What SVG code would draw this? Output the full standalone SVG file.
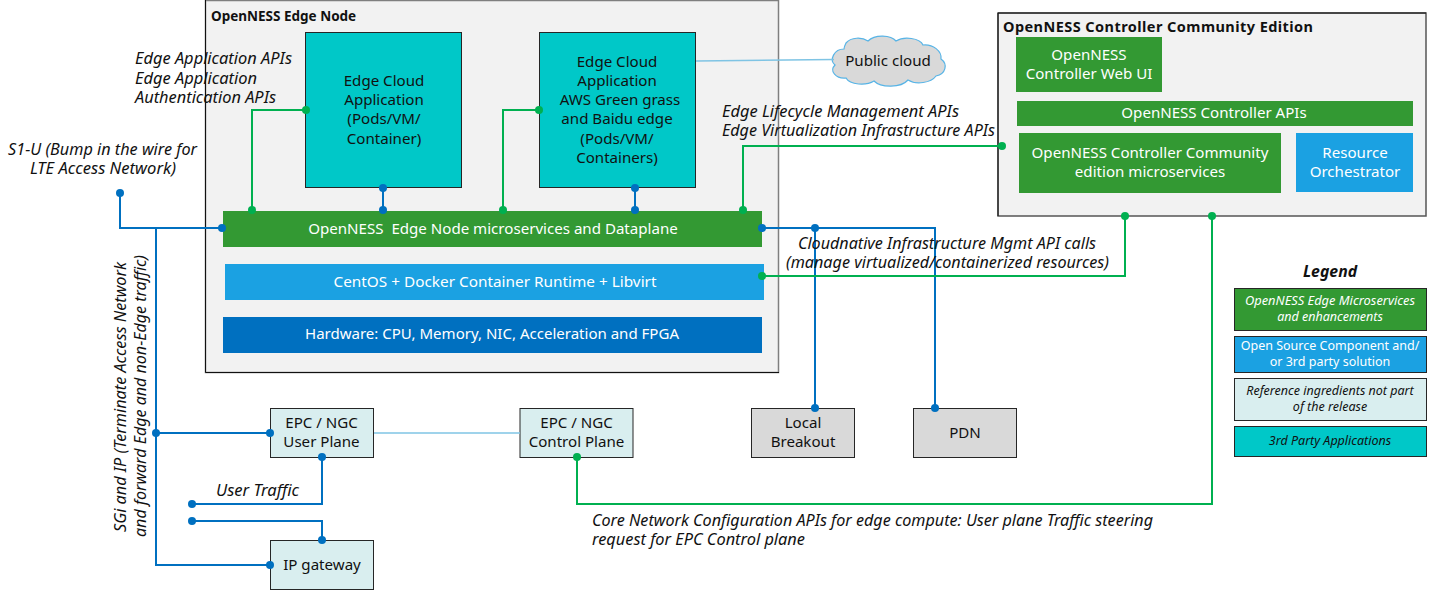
<svg xmlns="http://www.w3.org/2000/svg" width="1430" height="590" viewBox="0 0 1430 590">
<style>
text{font-family:"Noto Sans","Open Sans","Liberation Sans",sans-serif;font-size:15.100px;fill:#111}
.c{text-anchor:middle}
.w{fill:#fff}
.i{font-style:italic;font-size:15.800px}
.b{font-weight:700;font-size:13.500px}
.l{font-size:12.500px;font-style:italic;text-anchor:middle}
.lp{font-size:12.500px;text-anchor:middle}
.box{stroke:#262626;stroke-width:1}
.g{fill:#339933}.bl{fill:#1ba1e2}.dk{fill:#0070c0}.te{fill:#00c8c8}.pa{fill:#d9eeef}.gy{fill:#d9d9d9}
.lb{fill:none;stroke:#0070c0;stroke-width:2}
.lg{fill:none;stroke:#00b050;stroke-width:2}
.ln{fill:none;stroke:#7fc4e4;stroke-width:1.500}
.db{fill:#0070c0}.dg{fill:#00b050}
</style>
<defs>
<circle id="pb" r="4" class="db"/>
<circle id="pg" r="4" class="dg"/>
</defs>

<g id="edge-node">
<rect x="205.500" y="0.500" width="573" height="372" fill="#f2f2f2" stroke="#7f7f7f" stroke-width="1.500"/>
<path d="M205.500 0V372.500H779" fill="none" stroke="#111"/>
<text x="211" y="21" class="b">OpenNESS Edge Node</text>
</g>
<g id="controller">
<rect x="998" y="13" width="428" height="203" fill="#f2f2f2" stroke="#555" stroke-width="1.500"/>
<path d="M998 216V13H1426" fill="none" stroke="#111"/>
<text x="1003" y="32" class="b" style="font-size:14.500px" textLength="310">OpenNESS Controller Community Edition</text>
</g>

<g id="edge-app-1">
<rect class="te box" x="305.500" y="32.500" width="156" height="155"/>
<text class="c" x="384" y="86">Edge Cloud</text>
<text class="c" x="384" y="105">Application</text>
<text class="c" x="384" y="124">(Pods/VM/</text>
<text class="c" x="384" y="144">Container)</text>
</g>
<g id="edge-app-2">
<rect class="te box" x="539.500" y="32.500" width="156" height="155"/>
<text class="c" x="617" y="67">Edge Cloud</text>
<text class="c" x="617" y="86">Application</text>
<text class="c" x="620" y="105">AWS Green grass</text>
<text class="c" x="617" y="124">and Baidu edge</text>
<text class="c" x="617" y="144">(Pods/VM/</text>
<text class="c" x="617" y="163">Containers)</text>
</g>
<g id="public-cloud">
<path d="M846 43C851 37 862 37 868 41C875 34 891 35 896 41C904 36 920 38 923 45C933 44 942 51 941 59C948 64 946 74 936 76C931 83 916 85 908 80C901 88 881 88 874 81C866 86 850 85 846 78C836 79 829 71 835 65C829 60 834 49 844 49C844 47 845 45 846 43Z" fill="#d9d9d9" stroke="#58b4e6" stroke-width="1.200"/>
<text class="c" x="888" y="66">Public cloud</text>
</g>
<g id="dataplane">
<rect class="g" x="223" y="211" width="539" height="36"/>
<text class="c w" x="493" y="234">OpenNESS&#160; Edge Node microservices and Dataplane</text>
</g>
<g id="runtime">
<rect class="bl" x="225" y="264" width="539" height="36"/>
<text class="c w" x="495" y="287" textLength="323" lengthAdjust="spacingAndGlyphs">CentOS + Docker Container Runtime + Libvirt</text>
</g>
<g id="hardware">
<rect class="dk" x="223" y="317" width="539" height="36"/>
<text class="c w" x="492" y="339" textLength="374" lengthAdjust="spacingAndGlyphs">Hardware: CPU, Memory, NIC, Acceleration and FPGA</text>
</g>
<g id="web-ui">
<rect class="g" x="1016" y="37" width="146" height="55"/>
<text class="c w" x="1089" y="60">OpenNESS</text>
<text class="c w" x="1089" y="79">Controller Web UI</text>
</g>
<g id="controller-apis">
<rect class="g" x="1017" y="101" width="396" height="25"/>
<text class="c w" x="1214" y="118">OpenNESS Controller APIs</text>
</g>
<g id="controller-ms">
<rect class="g" x="1019" y="133" width="262" height="60"/>
<text class="c w" x="1150" y="158">OpenNESS Controller Community</text>
<text class="c w" x="1150" y="177">edition microservices</text>
</g>
<g id="orchestrator">
<rect class="bl" x="1296" y="133" width="117" height="59"/>
<text class="c w" x="1355" y="158">Resource</text>
<text class="c w" x="1355" y="177">Orchestrator</text>
</g>
<g id="epc-up">
<rect class="pa box" x="270.500" y="408.500" width="103" height="49"/>
<text class="c" x="321.500" y="428">EPC / NGC</text>
<text class="c" x="321.500" y="447">User Plane</text>
</g>
<g id="epc-cp">
<rect class="pa box" x="520" y="408.500" width="113" height="49"/>
<text class="c" x="576.500" y="428">EPC / NGC</text>
<text class="c" x="576.500" y="447">Control Plane</text>
</g>
<g id="local-breakout">
<rect class="gy box" x="751.500" y="408.500" width="103" height="49"/>
<text class="c" x="803" y="428">Local</text>
<text class="c" x="803" y="447">Breakout</text>
</g>
<g id="pdn">
<rect class="gy box" x="913.500" y="408.500" width="103" height="49"/>
<text class="c" x="965" y="438">PDN</text>
</g>
<g id="ip-gateway">
<rect class="pa box" x="270.500" y="540.500" width="103" height="49"/>
<text class="c" x="322" y="570">IP gateway</text>
</g>

<g id="connectors">
<path class="ln" d="M696 61L834 59.500"/>
<path class="ln" d="M374 433H520"/>
<path class="lb" d="M120 193V228H222"/>
<path class="lb" d="M156 228V565H270"/>
<path class="lb" d="M156 433H270"/>
<path class="lb" d="M322 457V504H192"/>
<path class="lb" d="M192 521H322V540"/>
<path class="lb" d="M383 188V210"/>
<path class="lb" d="M635 188V210"/>
<path class="lb" d="M762 228H935V408"/>
<path class="lb" d="M815 228V408"/>
<path class="lg" d="M304 110H252V210"/>
<path class="lg" d="M538 110H503V210"/>
<path class="lg" d="M743 210V146H1002"/>
<path class="lg" d="M764 276H1125V216"/>
<path class="lg" d="M577 457V504H1212V216"/>
<use href="#pb" x="120" y="193"/><use href="#pb" x="222" y="228"/>
<use href="#pb" x="156" y="433"/><use href="#pb" x="270" y="433"/><use href="#pb" x="270" y="565"/>
<use href="#pb" x="322" y="457"/><use href="#pb" x="192" y="504"/><use href="#pb" x="192" y="521"/><use href="#pb" x="322" y="540"/>
<use href="#pb" x="383" y="188"/><use href="#pb" x="383" y="210"/><use href="#pb" x="635" y="188"/><use href="#pb" x="635" y="210"/>
<use href="#pb" x="762" y="228"/><use href="#pb" x="815" y="228"/><use href="#pb" x="815" y="408"/><use href="#pb" x="935" y="408"/>
<use href="#pg" x="306" y="110"/><use href="#pg" x="252" y="210"/><use href="#pg" x="539" y="110"/><use href="#pg" x="503" y="210"/>
<use href="#pg" x="743" y="210"/><use href="#pg" x="1002" y="146"/><use href="#pg" x="762" y="276"/><use href="#pg" x="1125" y="216"/><use href="#pg" x="1212" y="216"/><use href="#pg" x="577" y="457"/>
</g>

<g id="labels">
<text class="i" x="135" y="64" textLength="157" lengthAdjust="spacingAndGlyphs">Edge Application APIs</text>
<text class="i" x="135" y="84" textLength="122" lengthAdjust="spacingAndGlyphs">Edge Application</text>
<text class="i" x="135" y="103" textLength="141" lengthAdjust="spacingAndGlyphs">Authentication APIs</text>
<text class="i" x="8" y="155" textLength="189" lengthAdjust="spacingAndGlyphs">S1-U (Bump in the wire for</text>
<text class="i" x="30" y="174" textLength="146" lengthAdjust="spacingAndGlyphs">LTE Access Network)</text>
<text class="i" x="722" y="117" textLength="237" lengthAdjust="spacingAndGlyphs">Edge Lifecycle Management APIs</text>
<text class="i" x="722" y="136" textLength="273" lengthAdjust="spacingAndGlyphs">Edge Virtualization Infrastructure APIs</text>
<text class="i" x="798" y="249" textLength="298" lengthAdjust="spacingAndGlyphs">Cloudnative Infrastructure Mgmt API calls</text>
<text class="i" x="786" y="268" textLength="323" lengthAdjust="spacingAndGlyphs">(manage virtualized/containerized resources)</text>
<text class="i" x="216" y="496" textLength="83" lengthAdjust="spacingAndGlyphs">User Traffic</text>
<text class="i" x="592" y="526" textLength="561" lengthAdjust="spacingAndGlyphs">Core Network Configuration APIs for edge compute: User plane Traffic steering</text>
<text class="i" x="592" y="545" textLength="213" lengthAdjust="spacingAndGlyphs">request for EPC Control plane</text>
<text class="i" transform="translate(126 532) rotate(-90)" textLength="270" lengthAdjust="spacingAndGlyphs">SGi and IP (Terminate Access Network</text>
<text class="i" transform="translate(146 537) rotate(-90)" textLength="282" lengthAdjust="spacingAndGlyphs">and forward Edge and non-Edge traffic)</text>
</g>

<g id="legend">
<text x="1330" y="277" class="c i" style="font-weight:700">Legend</text>
<rect class="g box" x="1234.500" y="288.500" width="192" height="42"/>
<text class="l w" x="1245" y="305" style="text-anchor:start" textLength="170" lengthAdjust="spacingAndGlyphs">OpenNESS Edge Microservices</text>
<text class="l w" x="1330" y="321">and enhancements</text>
<rect class="bl box" x="1234.500" y="336.500" width="192" height="36"/>
<text class="lp w" x="1330" y="350">Open Source Component and/</text>
<text class="lp w" x="1330" y="366">or 3rd party solution</text>
<rect class="pa box" x="1234.500" y="378.500" width="192" height="42"/>
<text class="l" x="1330" y="395">Reference ingredients not part</text>
<text class="l" x="1330" y="411">of the release</text>
<rect class="te box" x="1234.500" y="426.500" width="192" height="30"/>
<text class="l" x="1330" y="445">3rd Party Applications</text>
</g>
</svg>
